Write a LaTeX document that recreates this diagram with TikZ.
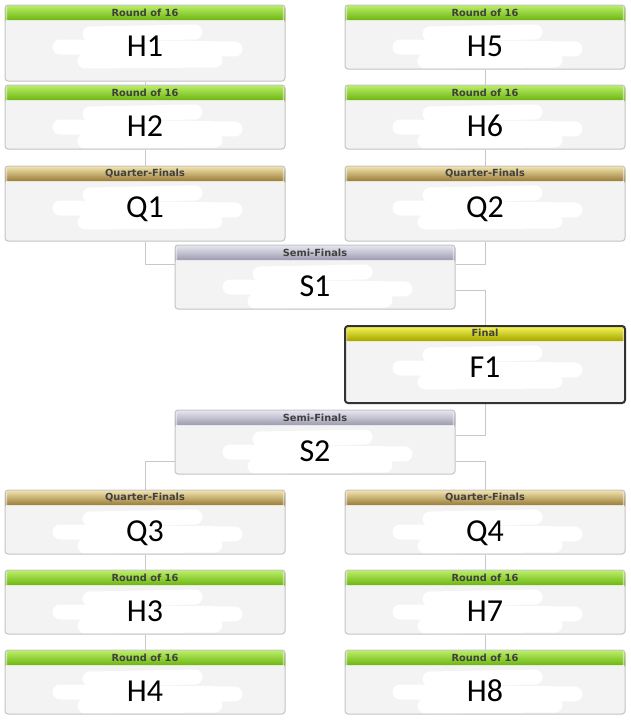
\documentclass[tikz,border=0pt]{standalone}
\usepackage{fontspec}
\usetikzlibrary{backgrounds}

\newfontfamily\labelfont{Carlito}
\newfontfamily\headfont{DejaVu Sans}

\definecolor{boxfill}{HTML}{F3F3F3}
\definecolor{boxline}{HTML}{C4C4C4}
\definecolor{wirecol}{HTML}{C8C8C8}
\definecolor{finalline}{HTML}{333333}
\definecolor{headtext}{HTML}{404040}
\definecolor{greentop}{HTML}{BCF06A}
\definecolor{greenbot}{HTML}{72BA16}
\definecolor{goldtop}{HTML}{F4E6B0}
\definecolor{goldbot}{HTML}{A08440}
\definecolor{semitop}{HTML}{E8E8F2}
\definecolor{semibot}{HTML}{A2A1B3}
\definecolor{finaltop}{HTML}{F8F85A}
\definecolor{finalbot}{HTML}{AAAA00}

\tikzset{
  wire/.style={draw=wirecol, line width=1pt},
  scribble/.style={draw=white, line width=15pt, line cap=round},
  headlbl/.style={anchor=center, yshift=-8pt, inner sep=0pt, text=headtext,
    font=\headfont\bfseries\fontsize{9.8}{11}\selectfont},
  head/.style 2 args={path picture={
    \foreach \i in {0,...,14} {
      \pgfmathsetmacro\p{100-\i*100/14}
      \pgfmathsetmacro\lo{\i+1.1}
      \fill[#1!\p!#2] ([yshift=-\i pt]path picture bounding box.north west)
        rectangle ([yshift=-\lo pt]path picture bounding box.north east);
    }
    \draw[scribble] ([shift={(-55pt,-29pt)}]path picture bounding box.north)
      -- ([shift={(50pt,-27pt)}]path picture bounding box.north);
    \draw[scribble] ([shift={(-85pt,-42pt)}]path picture bounding box.north)
      -- ([shift={(90pt,-44pt)}]path picture bounding box.north);
    \draw[scribble] ([shift={(-60pt,-56pt)}]path picture bounding box.north)
      -- ([shift={(70pt,-55pt)}]path picture bounding box.north);
  }},
  match/.style={draw=boxline, fill=boxfill, line width=1pt, rounded corners=3pt,
    inner sep=0pt, minimum width=280pt, text height=51pt, text depth=13pt,
    font=\labelfont\fontsize{32}{38}\selectfont},
  r16/.style={match, head={greentop}{greenbot}, label={[headlbl]north:Round of 16}},
  qf/.style={match, head={goldtop}{goldbot}, label={[headlbl]north:Quarter-Finals}},
  sf/.style={match, head={semitop}{semibot}, label={[headlbl]north:Semi-Finals}},
  fin/.style={match, draw=finalline, line width=2pt, head={finaltop}{finalbot},
    label={[headlbl]north:Final}}
}

\begin{document}
\begin{tikzpicture}[x=1pt, y=-1pt]
  \useasboundingbox (0,0) rectangle (630,723);

  % left top half
  \node[r16, text depth=25pt] (h1) at (145,43) {H1};
  \node[r16] (h2) at (145,117) {H2};
  \node[qf, text depth=24pt] (q1) at (145,203.5) {Q1};
  % right top half
  \node[r16] (h5) at (485,37) {H5};
  \node[r16] (h6) at (485,117) {H6};
  \node[qf, text depth=24pt] (q2) at (485,203.5) {Q2};

  \node[sf] (s1) at (315,277) {S1};
  \node[fin, text depth=26pt] (f1) at (485,364.5) {F1};
  \node[sf] (s2) at (315,442) {S2};

  % bottom half
  \node[qf] (q3) at (145,522) {Q3};
  \node[r16] (h3) at (145,602) {H3};
  \node[r16] (h4) at (145,682) {H4};
  \node[qf] (q4) at (485,522) {Q4};
  \node[r16] (h7) at (485,602) {H7};
  \node[r16] (h8) at (485,682) {H8};

  \begin{scope}[on background layer]
    \draw[wire] (h1.south) -- (h2.north);
    \draw[wire] (h2.south) -- (q1.north);
    \draw[wire] (h5.south) -- (h6.north);
    \draw[wire] (h6.south) -- (q2.north);
    \draw[wire] (q1.south) |- ([yshift=-20pt]s1.north west);
    \draw[wire] (q2.south) |- ([yshift=-20pt]s1.north east);
    \draw[wire] ([yshift=-13pt]s1.east) -| (f1.north);
    \draw[wire] (f1.south) |- ([yshift=-26pt]s2.north east);
    \draw[wire] ([yshift=-19pt]s2.west) -| (q3.north);
    \draw[wire] ([yshift=-19pt]s2.east) -| (q4.north);
    \draw[wire] (q3.south) -- (h3.north);
    \draw[wire] (h3.south) -- (h4.north);
    \draw[wire] (q4.south) -- (h7.north);
    \draw[wire] (h7.south) -- (h8.north);
  \end{scope}
\end{tikzpicture}
\end{document}
